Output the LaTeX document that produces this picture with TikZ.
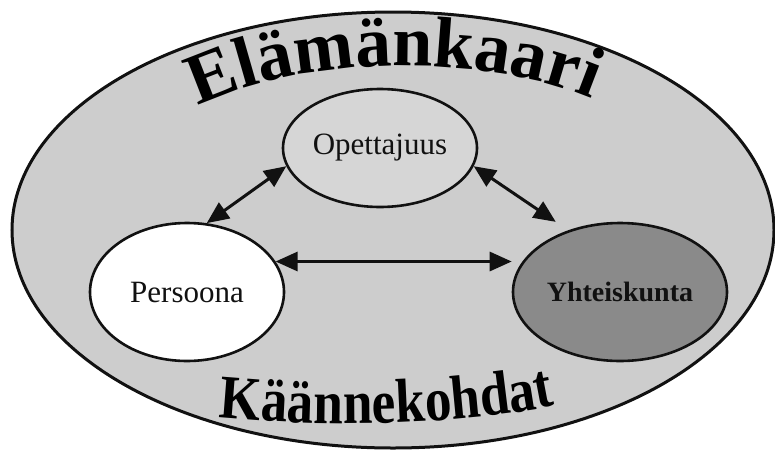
\documentclass[tikz,border=0pt]{standalone}
\usepackage{fontspec}
\setmainfont{Liberation Serif}
\newfontface\kaariface[FakeStretch=0.86]{Liberation Serif Bold}
\usetikzlibrary{arrows.meta, shapes.geometric, decorations.text}
\definecolor{lkInk}{HTML}{111111}
\definecolor{lkLight}{HTML}{CDCDCD}
\definecolor{lkPale}{HTML}{D6D6D6}
\definecolor{lkDark}{HTML}{8A8A8A}
\tikzset{
  bubble/.style={
    ellipse, draw=lkInk, line width=2.6pt, inner sep=0pt,
    fill=white, text=lkInk, font=\fontsize{31}{31}\selectfont
  },
  ringbubble/.style={bubble, fill=lkLight, line width=3pt},
  darkbubble/.style={bubble, fill=lkDark, font=\fontsize{28}{28}\selectfont\bfseries},
  link/.style={{Triangle[length=22pt 0 0, width=19pt 0 0]}-{Triangle[length=22pt 0 0, width=19pt 0 0]},
    line width=3pt, draw=lkInk},
}

\begin{document}
\begin{tikzpicture}[x=1pt, y=-1pt]
  \useasboundingbox (0,0) rectangle (775,450);
  \node[ringbubble, minimum width=762pt, minimum height=436pt] (kaari) at (393,230) {};
  \node[bubble, fill=lkPale, minimum width=194pt, minimum height=118pt] (opet) at (380,148) {Opettajuus};
  \node[bubble, minimum width=194pt, minimum height=138pt] (pers) at (187,292) {Persoona};
  \node[darkbubble, minimum width=214pt, minimum height=138pt] (yht) at (620,292) {Yhteiskunta};

  % arched titles
  \path[decorate, decoration={text along path, text align=center,
    text={|\fontsize{72}{72}\selectfont\bfseries|Elämänkaari}}]
    (186,112) .. controls (295,52) and (495,52) .. (604,104);
  \path[decorate, decoration={text along path, text align=center,
    text={|\fontsize{62}{62}\kaariface|Käännekohdat}}]
    (212,417) .. controls (320,428) and (460,426) .. (562,404);

  \draw[link] (opet.191) -- (pers.74);
  \draw[link, shorten >=15pt] (opet.-11) -- (yht.130);
  \draw[link] (pers.19) -- (pers.19 -| yht.west);
\end{tikzpicture}
\end{document}
